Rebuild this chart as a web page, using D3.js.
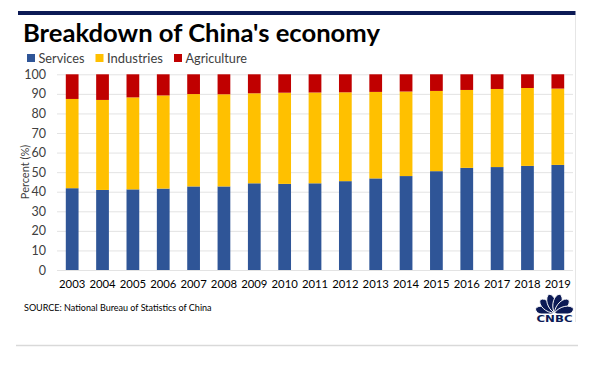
<!DOCTYPE html>
<html><head><meta charset="utf-8">
<script src="https://cdn.jsdelivr.net/npm/d3@7"></script>
<style>
html,body{margin:0;padding:0;background:#fff;}
svg{display:block;font-family:Lato,"Open Sans",sans-serif;}
</style></head>
<body>
<svg id="c" width="600" height="369"></svg>
<script>
// ---- data ----
const years = ["2003","2004","2005","2006","2007","2008","2009","2010","2011","2012","2013","2014","2015","2016","2017","2018","2019"];
const services    = [41.8,40.9,41.2,41.6,42.7,42.7,44.3,44.0,44.3,45.4,46.8,48.0,50.5,52.2,52.6,53.2,53.7];
const industries  = [45.6,46.0,47.0,47.6,47.2,47.1,46.0,46.6,46.4,45.4,44.2,43.2,41.0,39.8,39.9,39.8,39.0];
const agriculture = [12.6,13.1,11.8,10.8,10.1,10.2,9.7,9.4,9.3,9.2,9.0,8.8,8.5,8.0,7.5,7.0,7.3];
const seriesNames = ["Services","Industries","Agriculture"];
const yTicks = [0,10,20,30,40,50,60,70,80,90,100];
const title = "Breakdown of China's economy";
const source = "SOURCE: National Bureau of Statistics of China";

const colors = {Services:"#2f5597", Industries:"#ffc000", Agriculture:"#c00000"};
const svg = d3.select("#c");

function fit(sel, size, width){
  sel.attr("font-size", size);
  const w = sel.node().getComputedTextLength();
  sel.attr("font-size", size*width/w);
}

// frame
svg.append("rect").attr("x",18).attr("y",11).attr("width",557.5).attr("height",4).attr("fill","#0c1a55");
svg.append("line").attr("x1",575.5).attr("x2",575.5).attr("y1",15).attr("y2",322).attr("stroke","#e6e6e6").attr("stroke-width",1);
svg.append("line").attr("x1",16).attr("x2",578).attr("y1",345.5).attr("y2",345.5).attr("stroke","#d9d9d9").attr("stroke-width",1.5);

// title
const t = svg.append("text").attr("x",23).attr("y",42).attr("font-weight","bold").attr("fill","#000").text(title);
fit(t, 24, 357);

// legend
const legX = [27,95.5,174];
const legW = [46,56,61.5];
seriesNames.forEach((s,i)=>{
  svg.append("rect").attr("x",legX[i]).attr("y",54).attr("width",8).attr("height",8).attr("fill",colors[s]);
  const lt = svg.append("text").attr("x",legX[i]+11.5).attr("y",62.5).attr("fill","#404040").text(s);
  fit(lt, 13, legW[i]);
});

// scales
const x = d3.scaleBand().domain(years).range([57,573]).paddingInner(0.58).paddingOuter(0.29);
const y = d3.scaleLinear().domain([0,100]).range([270,74.3]);

// grid
svg.append("g").selectAll("line").data(yTicks).join("line")
  .attr("x1",57).attr("x2",573).attr("y1",d=>y(d)+0.5).attr("y2",d=>y(d)+0.5)
  .attr("stroke","#e3e3e3").attr("stroke-width",1);

// y axis
const ya = svg.append("g").attr("transform","translate(46,0)")
  .call(d3.axisLeft(y).tickValues(yTicks).tickSize(0).tickPadding(0));
ya.select(".domain").remove();
ya.selectAll("text").attr("font-size",12.5).attr("fill","#404040").attr("font-family","Lato,'Open Sans',sans-serif");

// x axis
const xa = svg.append("g").attr("transform","translate(0,280)")
  .call(d3.axisBottom(x).tickSize(0).tickPadding(0));
xa.select(".domain").remove();
xa.selectAll("text").attr("font-size",11.3).attr("fill","#000").attr("dy","0.71em").attr("font-family","Lato,'Open Sans',sans-serif");

// axis title
svg.append("text").attr("transform","translate(29,172) rotate(-90)").attr("text-anchor","middle")
  .attr("font-size",11).attr("fill","#404040").text("Percent (%)");

// stacked bars
const rows = years.map((yr,i)=>({year:yr, Services:services[i], Industries:industries[i], Agriculture:agriculture[i]}));
const stack = d3.stack().keys(seriesNames)(rows);
svg.append("g").selectAll("g").data(stack).join("g").attr("fill",d=>colors[d.key])
  .selectAll("rect").data(d=>d).join("rect")
  .attr("x",d=>x(d.data.year)).attr("width",x.bandwidth())
  .attr("y",d=>y(Math.min(d[1],100))).attr("height",d=>y(d[0])-y(Math.min(d[1],100)));

// source
const st = svg.append("text").attr("x",24).attr("y",311).attr("fill","#000").text(source);
fit(st, 10.5, 188);

// CNBC logo
const logo = svg.append("g").attr("transform","translate(554.5,313)");
const feathers = [-78,-47,-16,16,47,78];
feathers.forEach(a=>{
  logo.append("path")
    .attr("d","M0,0 C-6,-6 -5.5,-18 0,-19.5 C5.5,-18 6,-6 0,0 Z")
    .attr("fill","#0c1a55").attr("stroke","#fff").attr("stroke-width",0.9)
    .attr("transform",`rotate(${a})`);
});
logo.append("rect").attr("x",-20).attr("y",0.5).attr("width",40).attr("height",4).attr("fill","#fff");
svg.append("text").attr("x",554.5).attr("y",322).attr("text-anchor","middle").attr("font-size",9.5)
  .attr("font-weight","900").attr("font-family","'DejaVu Sans',sans-serif").attr("fill","#0c1a55").attr("textLength",36).attr("lengthAdjust","spacingAndGlyphs").text("CNBC");
</script>
</body></html>
